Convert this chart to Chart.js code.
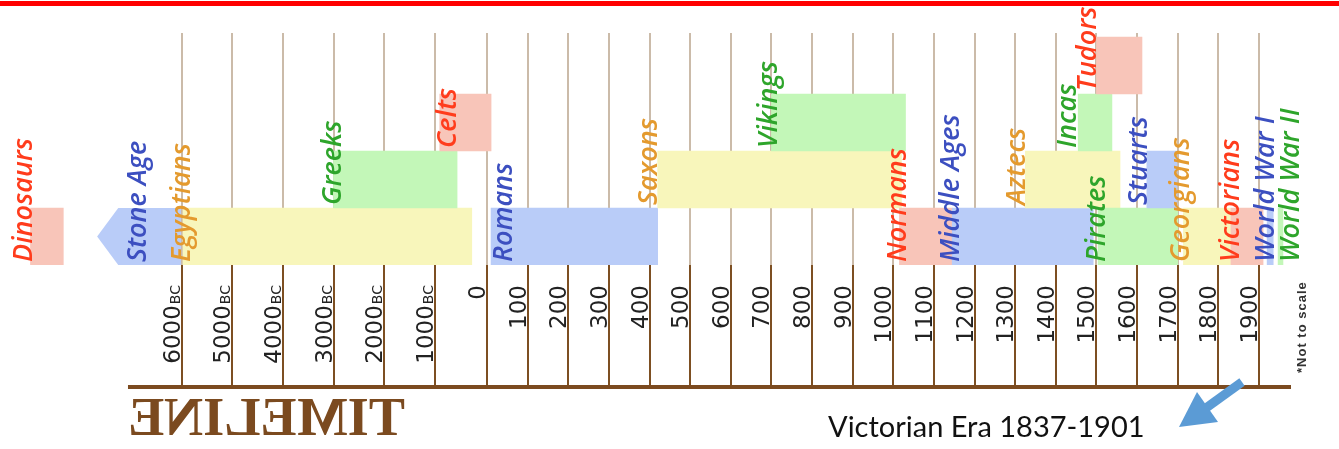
<!DOCTYPE html>
<html>
<head>
<meta charset="utf-8">
<script src="https://cdn.jsdelivr.net/npm/chart.js@4.4.1/dist/chart.umd.min.js"></script>
<style>
  html, body { margin: 0; padding: 0; background: #fff; }
  canvas { display: block; }
</style>
</head>
<body>
<canvas id="chart" width="1339" height="449"></canvas>
<script>
// periods along the timeline (years, negative = BC)
const periods = ['Dinosaurs', 'Stone Age', 'Egyptians', 'Greeks', 'Celts', 'Romans', 'Saxons', 'Vikings',
  'Normans', 'Middle Ages', 'Aztecs', 'Incas', 'Tudors', 'Pirates', 'Stuarts', 'Georgians', 'Victorians',
  'World War I', 'World War II'];
const startYears = [-9000, -7680, -6000, -3000, -900, 10, 420, 700, 1015, 1145, 1325, 1455, 1500, 1504, 1624, 1714, 1831, 1920, 1947];
const endYears = [-8350, -6000, -290, -570, 10, 420, 1020, 1030, 1145, 1492, 1558, 1538, 1612, 1700, 1698, 1830, 1910, 1935, 1959];
const rows = [3, 3, 3, 2, 1, 3, 2, 1, 3, 3, 2, 1, 0, 3, 2, 3, 3, 3, 3];
const colourKeys = ['red', 'blue', 'orange', 'green', 'red', 'blue', 'orange', 'green', 'red', 'blue',
  'orange', 'green', 'red', 'green', 'blue', 'orange', 'red', 'blue', 'green'];
const tickYears = [-6000, -5000, -4000, -3000, -2000, -1000, 0, 100, 200, 300, 400, 500, 600, 700, 800,
  900, 1000, 1100, 1200, 1300, 1400, 1500, 1600, 1700, 1800, 1900];

// label nudges, px from the bar's left edge
const labelShift = [2, 49, 7, 7, 16, 21, -1, 6, 7, 7, 0, -2, 0, 7, 0, 6, 8, 7, 21];

const barFill = { red: '#f8c5b9', blue: '#b9ccf8', orange: '#f8f6bb', green: '#c3f7b8' };
const textFill = { red: '#ff3c1c', blue: '#3c4fc0', orange: '#e49a2e', green: '#2ea52b' };

// *not to scale: BC millennia are wider than AD centuries
function toAxis(year) {
  if (year <= -1000) return (year + 6000) / 1000 * 1.243;
  if (year <= 0) return 6.215 + (year + 1000) / 1000 * 1.292;
  return 7.507 + year / 100;
}

const timelinePlugin = {
  id: 'timeline',
  beforeDraw(chart) {
    const ctx = chart.ctx;
    ctx.save();
    ctx.fillStyle = '#ff0000';
    ctx.fillRect(0, 1, chart.width, 5);
    ctx.restore();
  },
  afterDatasetsDraw(chart) {
    const ctx = chart.ctx;
    const bars = chart.getDatasetMeta(0).data;

    // stone age arrow head
    const sa = bars[1];
    const left = Math.min(sa.x, sa.base), right = Math.max(sa.x, sa.base);
    const top = sa.y - sa.height / 2, bottom = sa.y + sa.height / 2;
    const head = sa.height * 0.37;
    ctx.save();
    ctx.fillStyle = barFill.blue;
    ctx.beginPath();
    ctx.moveTo(left, sa.y);
    ctx.lineTo(left + head, top);
    ctx.lineTo(right, top);
    ctx.lineTo(right, bottom);
    ctx.lineTo(left + head, bottom);
    ctx.closePath();
    ctx.fill();
    ctx.restore();

    // period names
    bars.forEach((bar, i) => {
      const x0 = Math.min(bar.x, bar.base);
      const yb = bar.y + bar.height / 2;
      ctx.save();
      ctx.translate(x0 + labelShift[i], yb - 3);
      ctx.rotate(-Math.PI / 2);
      ctx.font = 'italic 600 27px "Open Sans"';
      ctx.fillStyle = textFill[colourKeys[i]];
      ctx.textAlign = 'left';
      ctx.textBaseline = 'alphabetic';
      ctx.fillText(periods[i], 0, 0);
      ctx.restore();
    });
  },
  afterDraw(chart) {
    const ctx = chart.ctx;
    const xs = chart.scales.x;
    const first = xs.getPixelForValue(toAxis(tickYears[0]));
    const last = xs.getPixelForValue(toAxis(tickYears[tickYears.length - 1]));
    const axisY = xs.top + 122;

    // tick labels
    tickYears.forEach(year => {
      const px = xs.getPixelForValue(toAxis(year));
      ctx.save();
      ctx.translate(px - 2, xs.top + 20);
      ctx.rotate(-Math.PI / 2);
      ctx.fillStyle = '#222';
      ctx.textAlign = 'right';
      ctx.textBaseline = 'alphabetic';
      let end = 0;
      if (year < 0) {
        ctx.font = '14px "DejaVu Sans"';
        ctx.fillText('BC', 0, 0);
        end = -ctx.measureText('BC').width - 1;
      }
      ctx.font = '23px "DejaVu Sans"';
      ctx.fillText(String(Math.abs(year)), end, 0);
      ctx.restore();
    });

    // base line
    ctx.save();
    ctx.strokeStyle = '#7b4a1f';
    ctx.lineWidth = 4;
    ctx.beginPath();
    ctx.moveTo(first - 54, axisY);
    ctx.lineTo(last + 32, axisY);
    ctx.stroke();
    ctx.restore();

    // mirrored title
    ctx.save();
    ctx.font = 'bold 54px "Liberation Serif"';
    const tw = ctx.measureText('TIMELINE').width;
    ctx.translate(first - 54 + 277, 435);
    ctx.scale(-277 / tw, 1);
    ctx.fillStyle = '#7b4a1f';
    ctx.textAlign = 'left';
    ctx.fillText('TIMELINE', 0, 0);
    ctx.restore();

    // not to scale
    ctx.save();
    ctx.translate(last + 47, 373);
    ctx.rotate(-Math.PI / 2);
    ctx.font = 'bold 13px "Liberation Sans"';
    ctx.letterSpacing = '1px';
    ctx.fillStyle = '#333';
    ctx.fillText('*Not to scale', 0, 0);
    ctx.restore();

    // victorian era note + arrow
    ctx.save();
    ctx.font = '29px Lato';
    ctx.fillStyle = '#111';
    ctx.fillText('Victorian Era 1837-1901', 828, 437);
    ctx.strokeStyle = '#5b9bd5';
    ctx.fillStyle = '#5b9bd5';
    ctx.lineWidth = 9;
    ctx.beginPath();
    ctx.moveTo(1242, 382);
    ctx.lineTo(1206, 408);
    ctx.stroke();
    ctx.beginPath();
    ctx.moveTo(1179, 427);
    ctx.lineTo(1197, 392);
    ctx.lineTo(1218, 422);
    ctx.closePath();
    ctx.fill();
    ctx.restore();
  }
};

new Chart(document.getElementById('chart'), {
  type: 'bar',
  data: {
    datasets: [{
      data: periods.map((p, i) => ({ x: [toAxis(startYears[i]), toAxis(endYears[i])], y: rows[i] })),
      backgroundColor: colourKeys.map((c, i) => i === 1 ? 'rgba(0,0,0,0)' : barFill[c]),
      borderWidth: 0,
      barPercentage: 1,
      categoryPercentage: 1
    }]
  },
  options: {
    indexAxis: 'y',
    responsive: false,
    animation: false,
    layout: { padding: { top: 33, bottom: 64, left: 0, right: 0 } },
    plugins: { legend: { display: false }, tooltip: { enabled: false } },
    scales: {
      x: {
        type: 'linear',
        min: -4.479,
        max: 28.476,
        afterBuildTicks: s => { s.ticks = tickYears.map(y => ({ value: toAxis(y) })); },
        afterFit: s => { s.height = 120; },
        grid: { color: '#cbbba9', lineWidth: 2, tickColor: '#7d4f22', tickWidth: 2, tickLength: 120 },
        border: { display: false },
        ticks: { display: false }
      },
      y: {
        type: 'linear',
        reverse: true,
        min: -0.57,
        max: 3.5,
        offset: false,
        display: false,
        grid: { offset: false },
        afterBuildTicks: s => { s.ticks = [0, 1, 2, 3].map(v => ({ value: v })); }
      }
    }
  },
  plugins: [timelinePlugin]
});
</script>
</body>
</html>
